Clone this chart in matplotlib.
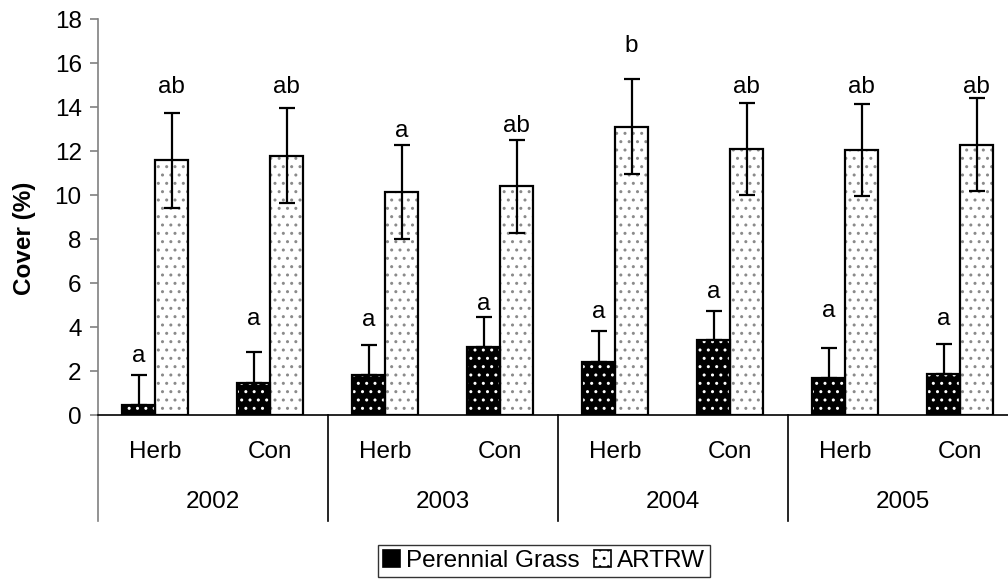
import matplotlib
matplotlib.use("Agg")
import matplotlib.pyplot as plt
from matplotlib.patches import Patch
import numpy as np

plt.rcParams['font.family'] = ['Liberation Sans', 'DejaVu Sans']
plt.rcParams['hatch.linewidth'] = 1.0

years = ['2002', '2003', '2004', '2005']
treatments = ['Herb', 'Con']
series_names = ['Perennial Grass', 'ARTRW']

grass = [0.45, 1.46, 1.84, 3.08, 2.43, 3.42, 1.70, 1.87]
grass_err = [1.36, 1.40, 1.36, 1.37, 1.38, 1.31, 1.36, 1.35]
artrw = [11.58, 11.80, 10.15, 10.40, 13.12, 12.10, 12.05, 12.30]
artrw_err = [2.17, 2.15, 2.15, 2.11, 2.15, 2.10, 2.08, 2.10]

grass_letters = ['a', 'a', 'a', 'a', 'a', 'a', 'a', 'a']
artrw_letters = ['ab', 'ab', 'a', 'ab', 'b', 'ab', 'ab', 'ab']
# baselines of the significance letters
grass_letter_y = [2.40, 4.09, 4.05, 4.78, 4.41, 5.34, 4.44, 4.08]
artrw_letter_y = [14.64, 14.64, 12.66, 12.89, 16.53, 14.64, 14.64, 14.64]

fs = 17.5
n = len(grass)
x = np.arange(n)
w = 0.287

fig = plt.figure(figsize=(10.08, 5.84), dpi=100)
ax = fig.add_axes([97.7/1008, 169/584, 920/1008, 395.7/584])

# bars: fill + hatch first, outline on top
ax.bar(x - w/2, grass, w, color='black', edgecolor='white', hatch='..', linewidth=0, zorder=2)
ax.bar(x - w/2, grass, w, fill=False, edgecolor='black', linewidth=1.6, zorder=3)
ax.bar(x + w/2, artrw, w, color='white', edgecolor='#8a8a8a', hatch='..', linewidth=0, zorder=2)
ax.bar(x + w/2, artrw, w, fill=False, edgecolor='black', linewidth=1.6, zorder=3)

ax.errorbar(x - w/2, grass, yerr=[np.zeros(n), grass_err], fmt='none', ecolor='black',
            elinewidth=1.6, capsize=6, capthick=1.6, zorder=4)
ax.errorbar(x + w/2, artrw, yerr=artrw_err, fmt='none', ecolor='black',
            elinewidth=1.6, capsize=6, capthick=1.6, zorder=4)

for i in range(n):
    ax.text(x[i] - w/2, grass_letter_y[i], grass_letters[i], ha='center', va='baseline', fontsize=fs)
    ax.text(x[i] + w/2, artrw_letter_y[i], artrw_letters[i], ha='center', va='baseline', fontsize=fs)

ax.set_xlim(-0.5, n - 0.5)
ax.set_ylim(0, 18)
ax.set_yticks(np.arange(0, 19, 2))
ax.tick_params(axis='y', labelsize=fs, length=5.5, width=1.2, color='#808080', pad=6)
ax.set_xticks([])
for s in ['top', 'right']:
    ax.spines[s].set_visible(False)
ax.spines['left'].set_color('#808080')
ax.spines['left'].set_linewidth(1.2)
ax.spines['bottom'].set_color('black')
ax.spines['bottom'].set_linewidth(1.2)

# two-level category axis
ypx = 18 / 395.7
for i in range(n):
    ax.text(x[i], -37 * ypx, treatments[i % 2], ha='center', va='center', fontsize=fs, clip_on=False)
for g, yr in enumerate(years):
    ax.text(2 * g + 0.5, -86.7 * ypx, yr, ha='center', va='center', fontsize=fs, clip_on=False)
    ax.plot([2 * g - 0.5, 2 * g - 0.5], [0, -106 * ypx], color='#808080' if g == 0 else 'black',
            lw=1.2, clip_on=False)

fig.text(24/1008, 1 - 238/584, 'Cover (%)', rotation=90, ha='center', va='center',
         fontsize=fs, fontweight='bold')

handles = [Patch(facecolor='black', edgecolor='white', hatch='..', linewidth=0),
           Patch(facecolor='white', edgecolor='#8a8a8a', hatch='..', linewidth=0)]
leg = fig.legend(handles, series_names, loc='center', bbox_to_anchor=(544/1008, 1 - 561/584),
                 ncol=2, fontsize=fs, frameon=True, fancybox=False, handlelength=0.7,
                 handleheight=0.7, handletextpad=0.25, columnspacing=0.6, borderpad=0.2,
                 borderaxespad=0)
leg.get_frame().set_edgecolor('black')
leg.get_frame().set_linewidth(1.0)
for p in leg.get_patches():
    p.set_edgecolor('black')
    p.set_linewidth(1.2)

fig.savefig('out.png', dpi=100)
